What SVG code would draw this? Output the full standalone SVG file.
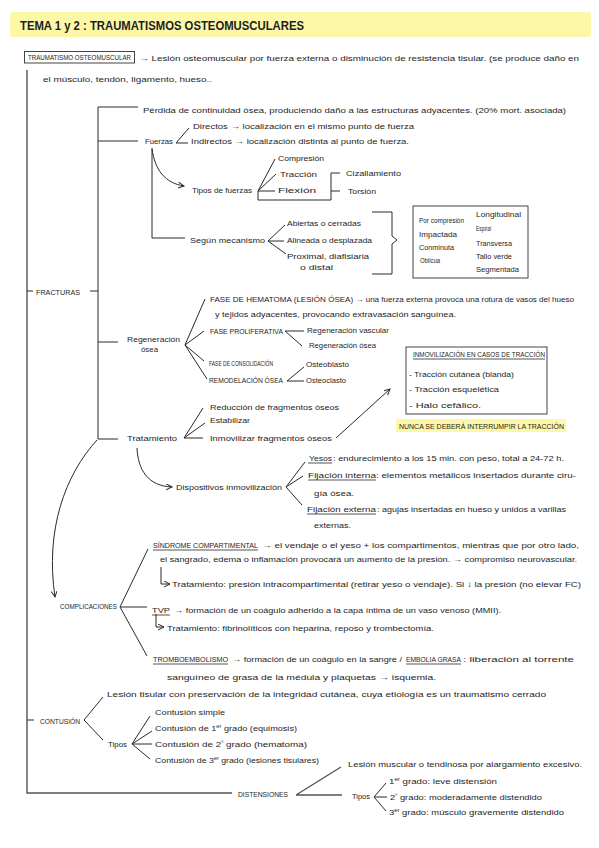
<svg xmlns="http://www.w3.org/2000/svg" width="599" height="848" viewBox="0 0 599 848">
<style>
text{font-family:"Liberation Sans",Arial,sans-serif;fill:#1e1e1e;font-size:8px}
.sm{font-size:6.5px}
.cap{font-size:7.5px}
.ttl{font-size:12px;font-weight:bold}
.sup{font-size:5px}
.ln{stroke:#2a2a2a;stroke-width:1;fill:none}
.main{stroke:#555;stroke-width:1.4;fill:none}
.ul{stroke:#2a2a2a;stroke-width:0.8}
.box{fill:none;stroke:#444;stroke-width:1}
.hl{fill:#fcf8a8}
</style>
<defs>
<marker id="ah" markerWidth="8" markerHeight="8" refX="6" refY="3" orient="auto" markerUnits="userSpaceOnUse"><path d="M0,0 L6,3 L0,6" fill="none" stroke="#2a2a2a" stroke-width="1"/></marker>
</defs>
<rect width="599" height="848" fill="#fff"/>

<g id="title">
<rect class="hl" x="10" y="12" width="581" height="25" rx="3"/>
<text class="ttl" x="20" y="30" textLength="284" lengthAdjust="spacingAndGlyphs">TEMA 1 y 2 : TRAUMATISMOS OSTEOMUSCULARES</text>
</g>

<g id="connectors">
<path class="main" d="M27,70 V793 H232"/>
<path class="ln" d="M27,291 H33 M90,291 H98"/>
<path class="ln" d="M138,107 H98 V439 H118 M98,141 H138 M98,342 H118"/>
<path class="ln" d="M176,143 L189,128 M176,143 H188"/>
<path class="ln" d="M152,148 V238 H185"/>
<path class="ln" d="M152,149 C155,170 165,183 184,186" marker-end="url(#ah)"/>
<path class="ln" d="M258,191 L275,159 M258,191 L276,174 M258,191 H275 M258,191 V200 H331 V173 H340 M331,191 H340"/>
<path class="ln" d="M268,241 L285,225 M268,241 H284 M268,241 L286,254"/>
<path class="ln" d="M372,212 H392 V236 L397,240 L392,244 V274 H372"/>
<path class="ln" d="M185,345 L205,299 M185,345 L204,331 M185,345 L204,361 M185,345 L207,379"/>
<path class="ln" d="M304,331 H285 L302,346"/>
<path class="ln" d="M304,367 L287,381 H304"/>
<path class="ln" d="M184,438 L203,408 M184,438 L205,423 M184,438 H203"/>
<path class="ln" d="M336,438 L390,389" marker-end="url(#ah)"/>
<path class="ln" d="M137,448 C138,470 148,486 172,487" marker-end="url(#ah)"/>
<path class="ln" d="M286,487 L305,462 M286,487 L303,476 M286,487 L302,505"/>
<path class="ln" d="M97,440 C65,475 45,530 55,597" marker-end="url(#ah)"/>
<path class="ln" d="M120,607 L148,549 M120,607 H147 M120,607 L147,656"/>
<path class="ln" d="M161,567 V584 H170" marker-end="url(#ah)"/>
<path class="ln" d="M156,614 V627 H164" marker-end="url(#ah)"/>
<path class="ln" d="M27,720 H34 M103,697 L84,720 L103,740"/>
<path class="ln" d="M132,744 L150,716 M132,744 L152,731 M132,744 H152 M132,744 L150,759"/>
<path class="main" d="M296,795 L341,767 M296,795 H342"/>
<path class="ln" d="M374,797 L386,783 M374,797 H387 M374,797 L386,811"/>
</g>

<g id="n-traumatismo">
<rect class="box" x="24.5" y="51.5" width="110" height="11.5"/>
<text class="sm" x="28" y="60" textLength="103" lengthAdjust="spacingAndGlyphs">TRAUMATISMO OSTEOMUSCULAR</text>
<text x="139" y="61" textLength="440" lengthAdjust="spacingAndGlyphs">→ Lesión osteomuscular por fuerza externa o disminución de resistencia tisular. (se produce daño en</text>
<text x="43" y="82" textLength="169" lengthAdjust="spacingAndGlyphs">el músculo, tendón, ligamento, hueso..</text>
</g>

<g id="n-fracturas">
<text class="cap" x="36" y="295" textLength="44" lengthAdjust="spacingAndGlyphs">FRACTURAS</text>
</g>
<g id="n-definicion">
<text x="143" y="113" textLength="423" lengthAdjust="spacingAndGlyphs">Pérdida de continuidad ósea, produciendo daño a las estructuras adyacentes. (20% mort. asociada)</text>
</g>
<g id="n-fuerzas">
<text x="145" y="144" textLength="28" lengthAdjust="spacingAndGlyphs">Fuerzas</text>
<text x="193" y="129" textLength="221" lengthAdjust="spacingAndGlyphs">Directos → localización en el mismo punto de fuerza</text>
<text x="191" y="144" textLength="218" lengthAdjust="spacingAndGlyphs">Indirectos → localización distinta al punto de fuerza.</text>
</g>
<g id="n-tipos-fuerzas">
<text x="192" y="193" textLength="60" lengthAdjust="spacingAndGlyphs">Tipos de fuerzas</text>
<text x="278" y="161" textLength="46" lengthAdjust="spacingAndGlyphs">Compresión</text>
<text x="280" y="177" textLength="37" lengthAdjust="spacingAndGlyphs">Tracción</text>
<text x="278" y="193" textLength="38" lengthAdjust="spacingAndGlyphs">Flexión</text>
<text x="346" y="176" textLength="55" lengthAdjust="spacingAndGlyphs">Cizallamiento</text>
<text x="348" y="194" textLength="28" lengthAdjust="spacingAndGlyphs">Torsión</text>
</g>
<g id="n-mecanismo">
<text x="190" y="243" textLength="75" lengthAdjust="spacingAndGlyphs">Según mecanismo</text>
<text x="287" y="226" textLength="74" lengthAdjust="spacingAndGlyphs">Abiertas o cerradas</text>
<text x="287" y="243" textLength="85" lengthAdjust="spacingAndGlyphs">Alineada o desplazada</text>
<text x="287" y="259" textLength="82" lengthAdjust="spacingAndGlyphs">Proximal, diafisiaria</text>
<text x="300" y="270" textLength="33" lengthAdjust="spacingAndGlyphs">o distal</text>
</g>
<g id="n-tipos-fractura">
<rect class="box" x="413" y="206" width="115" height="72"/>
<text class="sm" x="419" y="222.5" textLength="45" lengthAdjust="spacingAndGlyphs">Por compresión</text>
<text class="sm" x="419" y="236.5" textLength="38" lengthAdjust="spacingAndGlyphs">Impactada</text>
<text class="sm" x="419" y="249.5" textLength="35" lengthAdjust="spacingAndGlyphs">Conminuta</text>
<text class="sm" x="420" y="262.5" textLength="20" lengthAdjust="spacingAndGlyphs">Oblicua</text>
<text class="sm" x="476" y="216.5" textLength="45" lengthAdjust="spacingAndGlyphs">Longitudinal</text>
<text class="sm" x="476" y="230.5" textLength="15" lengthAdjust="spacingAndGlyphs">Espiral</text>
<text class="sm" x="476" y="245.5" textLength="36" lengthAdjust="spacingAndGlyphs">Transversa</text>
<text class="sm" x="476" y="258.5" textLength="36" lengthAdjust="spacingAndGlyphs">Tallo verde</text>
<text class="sm" x="476" y="271.5" textLength="43" lengthAdjust="spacingAndGlyphs">Segmentada</text>
</g>
<g id="n-regeneracion">
<text x="127" y="342" textLength="53" lengthAdjust="spacingAndGlyphs">Regeneración</text>
<text x="141" y="352" textLength="17" lengthAdjust="spacingAndGlyphs">ósea</text>
<text x="210" y="302" textLength="364" lengthAdjust="spacingAndGlyphs">FASE DE HEMATOMA (LESIÓN ÓSEA) → una fuerza externa provoca una rotura de vasos del hueso</text>
<text x="215" y="317" textLength="241" lengthAdjust="spacingAndGlyphs">y tejidos adyacentes, provocando extravasación sanguínea.</text>
<text class="cap" x="210" y="334" textLength="73" lengthAdjust="spacingAndGlyphs">FASE PROLIFERATIVA</text>
<text x="307" y="333" textLength="82" lengthAdjust="spacingAndGlyphs">Regeneración vascular</text>
<text x="309" y="348" textLength="67" lengthAdjust="spacingAndGlyphs">Regeneración ósea</text>
<text class="sm" x="209" y="366" textLength="64" lengthAdjust="spacingAndGlyphs">FASE DE CONSOLIDACIÓN</text>
<text class="cap" x="209" y="383" textLength="74" lengthAdjust="spacingAndGlyphs">REMODELACIÓN ÓSEA</text>
<text x="306" y="367" textLength="43" lengthAdjust="spacingAndGlyphs">Osteoblasto</text>
<text x="306" y="383" textLength="40" lengthAdjust="spacingAndGlyphs">Osteoclasto</text>
</g>
<g id="n-traccion">
<rect class="box" x="406" y="347" width="141" height="67"/>
<text class="sm" x="413" y="356.5" textLength="132" lengthAdjust="spacingAndGlyphs">INMOVILIZACIÓN EN CASOS DE TRACCIÓN</text>
<line class="ul" x1="413" y1="359" x2="545" y2="359"/>
<text x="409" y="377" textLength="105" lengthAdjust="spacingAndGlyphs">- Tracción cutánea (blanda)</text>
<text x="409" y="392" textLength="90" lengthAdjust="spacingAndGlyphs">- Tracción esquelética</text>
<text x="409" y="408" textLength="72" lengthAdjust="spacingAndGlyphs">- Halo cefálico.</text>
<rect class="hl" x="396" y="419" width="170" height="13"/>
<text class="sm" x="399" y="428.5" textLength="165" lengthAdjust="spacingAndGlyphs">NUNCA SE DEBERÁ INTERRUMPIR LA TRACCIÓN</text>
</g>
<g id="n-tratamiento">
<text x="127" y="441" textLength="50" lengthAdjust="spacingAndGlyphs">Tratamiento</text>
<text x="210" y="410" textLength="129" lengthAdjust="spacingAndGlyphs">Reducción de fragmentos óseos</text>
<text x="210" y="423" textLength="40" lengthAdjust="spacingAndGlyphs">Estabilizar</text>
<text x="210" y="441" textLength="122" lengthAdjust="spacingAndGlyphs">Inmovilizar fragmentos óseos</text>
</g>
<g id="n-dispositivos">
<text x="176" y="490" textLength="106" lengthAdjust="spacingAndGlyphs">Dispositivos inmovilización</text>
<text x="309" y="461" textLength="23" lengthAdjust="spacingAndGlyphs">Yesos</text>
<line class="ul" x1="308" y1="463" x2="332" y2="463"/>
<text x="333" y="461" textLength="231" lengthAdjust="spacingAndGlyphs">: endurecimiento a los 15 min. con peso, total a 24-72 h.</text>
<text x="308" y="478" textLength="68" lengthAdjust="spacingAndGlyphs">Fijación interna</text>
<line class="ul" x1="308" y1="480" x2="376" y2="480"/>
<text x="376" y="478" textLength="200" lengthAdjust="spacingAndGlyphs">: elementos metálicos insertados durante ciru-</text>
<text x="314" y="496" textLength="40" lengthAdjust="spacingAndGlyphs">gía ósea.</text>
<text x="307" y="512" textLength="69" lengthAdjust="spacingAndGlyphs">Fijación externa</text>
<line class="ul" x1="307" y1="514" x2="376" y2="514"/>
<text x="377" y="512" textLength="189" lengthAdjust="spacingAndGlyphs">: agujas insertadas en hueso y unidos a varillas</text>
<text x="314" y="528" textLength="37" lengthAdjust="spacingAndGlyphs">externas.</text>
</g>
<g id="n-complicaciones">
<text class="sm" x="60" y="609" textLength="57" lengthAdjust="spacingAndGlyphs">COMPLICACIONES</text>
<text class="sm" x="153" y="548" textLength="105" lengthAdjust="spacingAndGlyphs">SÍNDROME COMPARTIMENTAL</text>
<line class="ul" x1="153" y1="550" x2="258" y2="550"/>
<text x="262" y="548" textLength="317" lengthAdjust="spacingAndGlyphs">→ el vendaje o el yeso + los compartimentos, mientras que por otro lado,</text>
<text x="160" y="562" textLength="417" lengthAdjust="spacingAndGlyphs">el sangrado, edema o inflamación provocará un aumento de la presión. → compromiso neurovascular.</text>
<text x="172" y="587" textLength="409" lengthAdjust="spacingAndGlyphs">Tratamiento: presión intracompartimental (retirar yeso o vendaje). Si ↓ la presión (no elevar FC)</text>
<text class="sm" x="152" y="613" textLength="18" lengthAdjust="spacingAndGlyphs">TVP</text>
<line class="ul" x1="152" y1="615" x2="170" y2="615"/>
<text x="174" y="613" textLength="327" lengthAdjust="spacingAndGlyphs">→ formación de un coágulo adherido a la capa íntima de un vaso venoso (MMII).</text>
<text x="167" y="631" textLength="267" lengthAdjust="spacingAndGlyphs">Tratamiento: fibrinolíticos con heparina, reposo y trombectomía.</text>
<text class="sm" x="153" y="662" textLength="75" lengthAdjust="spacingAndGlyphs">TROMBOEMBOLISMO</text>
<line class="ul" x1="153" y1="664" x2="228" y2="664"/>
<text x="232" y="662" textLength="170" lengthAdjust="spacingAndGlyphs">→ formación de un coágulo en la sangre /</text>
<text class="sm" x="406" y="662" textLength="55" lengthAdjust="spacingAndGlyphs">EMBOLIA GRASA</text>
<line class="ul" x1="406" y1="664" x2="461" y2="664"/>
<text x="463" y="662" textLength="111" lengthAdjust="spacingAndGlyphs">: liberación al torrente</text>
<text x="167" y="680" textLength="269" lengthAdjust="spacingAndGlyphs">sanguíneo de grasa de la médula y plaquetas → isquemia.</text>
</g>
<g id="n-contusion">
<text class="sm" x="40" y="724" textLength="40" lengthAdjust="spacingAndGlyphs">CONTUSIÓN</text>
<text x="107" y="697" textLength="439" lengthAdjust="spacingAndGlyphs">Lesión tisular con preservación de la integridad cutánea, cuya etiología es un traumatismo cerrado</text>
<text class="sm" x="108" y="747" textLength="19" lengthAdjust="spacingAndGlyphs">Tipos</text>
<text x="155" y="715" textLength="70" lengthAdjust="spacingAndGlyphs">Contusión simple</text>
<text x="155" y="731" textLength="142" lengthAdjust="spacingAndGlyphs">Contusión de 1<tspan class="sup" baseline-shift="super">er</tspan> grado (equimosis)</text>
<text x="155" y="747" textLength="152" lengthAdjust="spacingAndGlyphs">Contusión de 2<tspan class="sup" baseline-shift="super">º</tspan> grado (hematoma)</text>
<text x="155" y="763" textLength="164" lengthAdjust="spacingAndGlyphs">Contusión de 3<tspan class="sup" baseline-shift="super">er</tspan> grado (lesiones tisulares)</text>
</g>
<g id="n-distensiones">
<text class="sm" x="238" y="797" textLength="50" lengthAdjust="spacingAndGlyphs">DISTENSIONES</text>
<text x="348" y="767" textLength="234" lengthAdjust="spacingAndGlyphs">Lesión muscular o tendinosa por alargamiento excesivo.</text>
<text class="sm" x="352" y="799" textLength="18" lengthAdjust="spacingAndGlyphs">Tipos</text>
<text x="389" y="784" textLength="108" lengthAdjust="spacingAndGlyphs">1<tspan class="sup" baseline-shift="super">er</tspan> grado: leve distensión</text>
<text x="390" y="800" textLength="152" lengthAdjust="spacingAndGlyphs">2<tspan class="sup" baseline-shift="super">º</tspan> grado: moderadamente distendido</text>
<text x="389" y="815" textLength="175" lengthAdjust="spacingAndGlyphs">3<tspan class="sup" baseline-shift="super">er</tspan> grado: músculo gravemente distendido</text>
</g>
</svg>
